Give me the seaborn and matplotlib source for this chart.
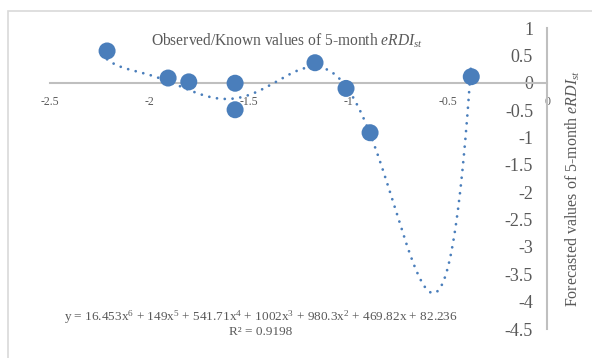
import numpy as np
import pandas as pd
import seaborn as sns
import matplotlib.pyplot as plt
from matplotlib.patches import Rectangle

# observed points
observed = [-2.213, -1.906, -1.802, -1.569, -1.569, -1.167, -1.011, -0.890, -0.381]
forecasted = [0.585, 0.09, 0.02, -0.005, -0.49, 0.37, -0.10, -0.91, 0.115]

# 6th order trendline, as printed on the chart (highest power first)
trend_coefs = [16.453, 149, 541.71, 1002, 980.3, 469.82, 82.236]
trend_label = ("y = 16.453x$^6$ + 149x$^5$ + 541.71x$^4$ + 1002x$^3$ + 980.3x$^2$ "
               "+ 469.82x + 82.236\nR² = 0.9198")

x_ticks = [-2.5, -2, -1.5, -1, -0.5, 0]
y_ticks = [1, 0.5, 0, -0.5, -1, -1.5, -2, -2.5, -3, -3.5, -4, -4.5]

sns.set_style('white')
plt.rcParams['font.family'] = ['Liberation Serif', 'DejaVu Serif']
plt.rcParams['mathtext.fontset'] = 'custom'
plt.rcParams['mathtext.rm'] = 'Liberation Serif'
plt.rcParams['mathtext.it'] = 'Liberation Serif:italic'

blue = '#4A7EBB'
grey_txt = '#595959'
grey_line = '#BFBFBF'

fig = plt.figure(figsize=(5.92, 3.58), dpi=100)
fig.patches.append(Rectangle((8 / 592, -0.1), 1.2, 1 - 11 / 358 + 0.1,
                             transform=fig.transFigure, fill=False,
                             edgecolor='#D9D9D9', lw=1.2))
ax = fig.add_axes([0.0845, 0.081, 0.8395, 0.840])

xs = np.linspace(min(observed), max(observed), 300)
trend = pd.DataFrame({'x': xs, 'y': np.polyval(trend_coefs, xs)})
sns.lineplot(data=trend, x='x', y='y', ax=ax, color=blue, lw=2.0,
             linestyle=(0, (0.01, 2.8)), dash_capstyle='round', zorder=2)

pts = pd.DataFrame({'obs': observed, 'fc': forecasted})
sns.scatterplot(data=pts, x='obs', y='fc', ax=ax, color=blue, s=150,
                edgecolor='none', zorder=3)

ax.set_xlim(-2.5, 0)
ax.set_ylim(-4.5, 1)
ax.set_xticks(x_ticks)
ax.set_xticklabels([f'{t:g}' for t in x_ticks])
ax.set_yticks(y_ticks)
ax.set_yticklabels([f'{t:g}' for t in y_ticks])

for s in ['top', 'right']:
    ax.spines[s].set_visible(False)
ax.spines['left'].set_position(('data', 0))
ax.spines['bottom'].set_position(('data', 0))
for s in ['left', 'bottom']:
    ax.spines[s].set_color(grey_line)
    ax.spines[s].set_linewidth(1.5)
    ax.spines[s].set_zorder(1)

ax.tick_params(axis='x', length=0, pad=9.5, labelsize=8.5, labelcolor=grey_txt)
ax.tick_params(axis='y', length=0, pad=10, labelsize=13, labelcolor=grey_txt)
ax.set_xlabel('')
ax.set_ylabel('')

ax.text(287 / 592, 1 - 41 / 358, r'Observed/Known values of 5-month $\it{eRDI}_{st}$',
        transform=fig.transFigure, ha='center', va='center', fontsize=11.2,
        color=grey_txt)
ax.text(1.052, 0.469, r'Forecasted values of 5-month $\it{eRDI}_{st}$',
        transform=ax.transAxes, rotation=90, ha='center', va='center',
        fontsize=11.5, color=grey_txt)
ax.text(261 / 592, 1 - 323 / 358, trend_label, transform=fig.transFigure,
        ha='center', va='center', fontsize=9.5, color=grey_txt,
        linespacing=1.0, multialignment='center')

fig.savefig('out.png', dpi=100)
